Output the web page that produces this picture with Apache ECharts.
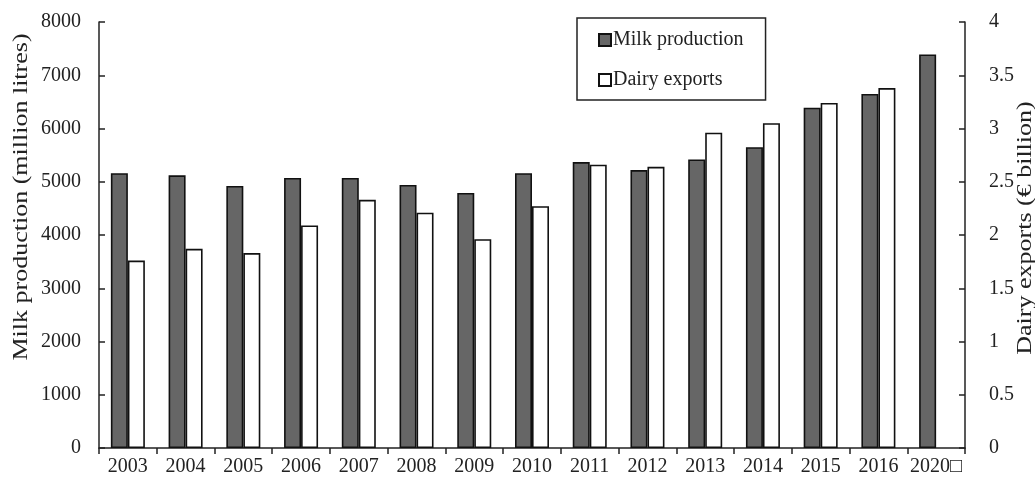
<!DOCTYPE html>
<html><head><meta charset="utf-8">
<script src="https://cdn.jsdelivr.net/npm/echarts@6/dist/echarts.min.js"></script>
<style>html,body{margin:0;padding:0;background:#fff}#c{width:1035px;height:478px}</style>
</head><body><div id="c"></div>
<script>
var categories = ['2003','2004','2005','2006','2007','2008','2009','2010','2011','2012','2013','2014','2015','2016','2020\u25A1'];
var milkProduction = [5160, 5120, 4920, 5070, 5070, 4940, 4790, 5160, 5370, 5220, 5420, 5650, 6390, 6650, 7390];
var dairyExports = [1.76, 1.87, 1.83, 2.09, 2.33, 2.21, 1.96, 2.27, 2.66, 2.64, 2.96, 3.05, 3.24, 3.38, null];
var leftTicks = [0,1000,2000,3000,4000,5000,6000,7000,8000];
var rightTicks = [0,0.5,1,1.5,2,2.5,3,3.5,4];

var FONT = 'Liberation Serif';
var chart = echarts.init(document.getElementById('c'), null, {renderer:'canvas'});
chart.setOption({
  animation: false,
  backgroundColor: '#fff',
  textStyle: {fontFamily: FONT, color: '#222'},
  grid: {left: 99, right: 70, top: 22, bottom: 30},
  legend: {
    orient: 'vertical', left: 577, top: 18,
    borderColor: '#222', borderWidth: 1.5,
    padding: [12, 22, 10, 21],
    itemGap: 20, itemWidth: 12, itemHeight: 12,
    icon: 'rect',
    textStyle: {fontFamily: FONT, fontSize: 20, color: '#222', padding: [0,0,0,-3]},
    data: ['Milk production', 'Dairy exports']
  },
  xAxis: {
    type: 'category', data: categories,
    axisLine: {lineStyle: {color: '#222', width: 1.5}},
    axisTick: {show: true, alignWithLabel: false, length: 6, lineStyle: {color: '#222', width: 1.5}},
    axisLabel: {fontFamily: FONT, fontSize: 20, color: '#222', margin: 9, interval: 0}
  },
  yAxis: [{
    type: 'value', min: 0, max: 8000, interval: 1000, position: 'left',
    axisLine: {show: true, lineStyle: {color: '#222', width: 1.5}},
    axisTick: {show: true, inside: true, length: 6, lineStyle: {color: '#222', width: 1.5}},
    splitLine: {show: false},
    axisLabel: {fontFamily: FONT, fontSize: 20, color: '#222', margin: 18,
      formatter: function(v){ return leftTicks.indexOf(v) >= 0 ? String(v) : ''; }}
  }, {
    type: 'value', min: 0, max: 4, interval: 0.5, position: 'right',
    axisLine: {show: true, lineStyle: {color: '#222', width: 1.5}},
    axisTick: {show: true, inside: true, length: 6, lineStyle: {color: '#222', width: 1.5}},
    splitLine: {show: false},
    axisLabel: {fontFamily: FONT, fontSize: 20, color: '#222', margin: 24,
      formatter: function(v){ return rightTicks.indexOf(v) >= 0 ? String(v) : ''; }}
  }],
  graphic: [{
    type: 'text', x: 22, y: 197, rotation: Math.PI/2, scaleX: 1.3,
    style: {text: 'Milk production (million litres)', fontFamily: FONT, fontSize: 20, fill: '#222',
      align: 'center', verticalAlign: 'middle'}
  }, {
    type: 'text', x: 1026, y: 228, rotation: Math.PI/2, scaleX: 1.3,
    style: {text: 'Dairy exports (\u20AC billion)', fontFamily: FONT, fontSize: 20, fill: '#222',
      align: 'center', verticalAlign: 'middle'}
  }],
  series: [{
    name: 'Milk production', type: 'bar', yAxisIndex: 0, data: milkProduction,
    barWidth: 17, barGap: '0%',
    itemStyle: {color: '#666666', borderColor: '#111', borderWidth: 1.6}
  }, {
    name: 'Dairy exports', type: 'bar', yAxisIndex: 1, data: dairyExports,
    barWidth: 17,
    itemStyle: {color: '#ffffff', borderColor: '#111', borderWidth: 1.6}
  }]
});
</script></body></html>
